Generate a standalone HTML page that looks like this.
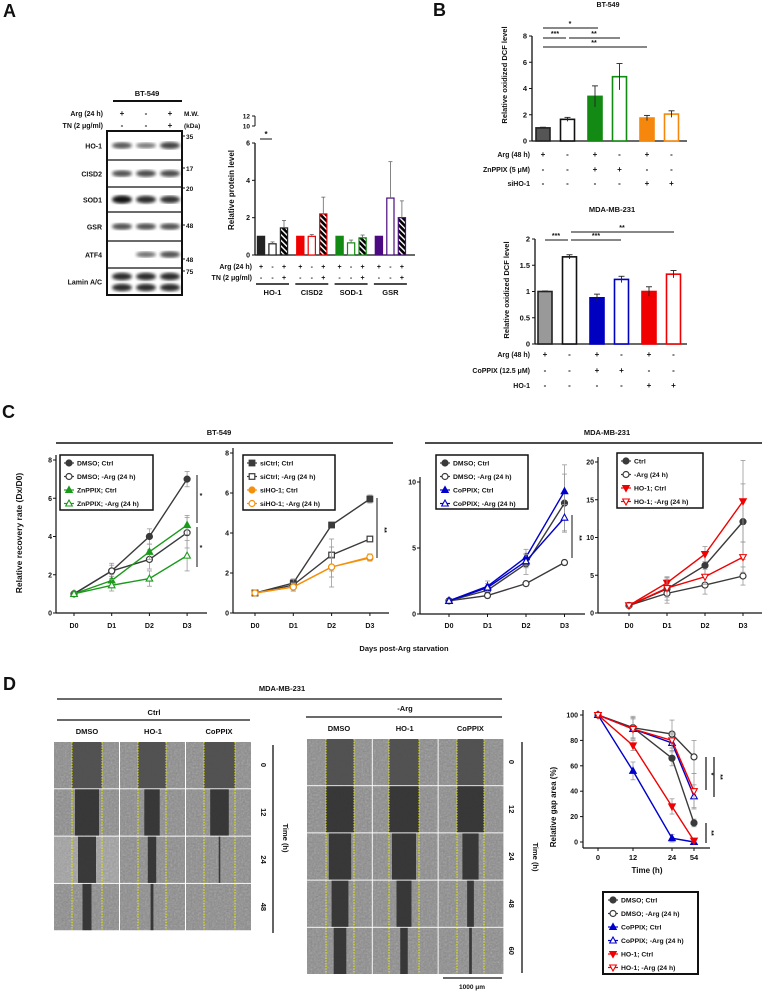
<!DOCTYPE html>
<html><head><meta charset="utf-8"><style>
html,body{margin:0;padding:0;background:#fff;}
svg{display:block;font-family:"Liberation Sans",sans-serif;font-weight:bold;}
</style></head><body>
<svg id="fig" width="762" height="991" viewBox="0 0 762 991" xmlns="http://www.w3.org/2000/svg">
<defs>
<filter id="noise" x="0" y="0" width="100%" height="100%"><feTurbulence type="fractalNoise" baseFrequency="0.55" numOctaves="2" seed="3"/><feColorMatrix type="saturate" values="0"/></filter>
<filter id="blur1"><feGaussianBlur stdDeviation="1.6"/></filter>
<pattern id="hatch" width="4" height="4" patternUnits="userSpaceOnUse" patternTransform="rotate(-45)"><rect width="4" height="4" fill="currentColor"/><rect width="1.4" height="4" fill="#fff"/></pattern>
</defs>
</svg>
<script>
// ---------- DATA ----------
const aGroups = ['HO-1','CISD2','SOD-1','GSR'];
const aValues = [[1,0.6,1.45],[1,1,2.2],[1,0.65,0.92],[1,3.05,2.0]];
const aErrors = [[0,0.1,0.4],[0,0.1,0.9],[0,0.15,0.15],[0,1.95,0.9]];
const aArg = ['+','-','+'];
const aTN = ['-','-','+'];
const aTicks = [0,2,4,6];
const blotRows = ['HO-1','CISD2','SOD1','GSR','ATF4','Lamin A/C'];
const blotIntensity = [[0.5,0.3,0.65],[0.55,0.6,0.6],[0.95,0.8,0.75],[0.55,0.55,0.55],[0,0.35,0.55],[0.8,0.8,0.8]];
const mwLabels = ['35','17','20','48','48','75'];

const bTopValues = [1,1.65,3.4,4.9,1.75,2.05];
const bTopErrors = [0.05,0.15,0.8,1.0,0.2,0.25];
const bTopArg = ['+','-','+','-','+','-'];
const bTopZn = ['-','-','+','+','-','-'];
const bTopSi = ['-','-','-','-','+','+'];
const bTopTicks = [0,2,4,6,8];
const bBotValues = [1,1.66,0.88,1.23,1.0,1.33];
const bBotErrors = [0.01,0.04,0.07,0.06,0.09,0.07];
const bBotArg = ['+','-','+','-','+','-'];
const bBotCo = ['-','-','+','+','-','-'];
const bBotHO = ['-','-','-','-','+','+'];
const bBotTicks = [0,0.5,1,1.5,2];
const bBotTickLabels = ['0','0.5','1','1.5','2'];

const cDays = ['D0','D1','D2','D3'];
const c1Names = ['DMSO; Ctrl','DMSO; -Arg (24 h)','ZnPPIX; Ctrl','ZnPPIX; -Arg (24 h)'];
const c1Values = [[1,2.2,4.0,7.0],[1,2.2,2.8,4.2],[1,1.7,3.2,4.6],[1,1.45,1.8,3.0]];
const c1Errors = [[0.1,0.4,0.4,0.4],[0.1,0.3,0.5,0.8],[0.1,0.3,0.4,0.5],[0.1,0.3,0.4,0.8]];
const c2Names = ['siCtrl; Ctrl','siCtrl; -Arg (24 h)','siHO-1; Ctrl','siHO-1; -Arg (24 h)'];
const c2Values = [[1,1.5,4.4,5.7],[1,1.4,2.9,3.7],[1,1.3,2.3,2.75],[1,1.3,2.3,2.8]];
const c2Errors = [[0.05,0.2,0.1,0.2],[0.05,0.3,0.8,0.1],[0.05,0.2,1.0,0.15],[0.05,0.2,0.5,0.15]];
const c3Names = ['DMSO; Ctrl','DMSO; -Arg (24 h)','CoPPIX; Ctrl','CoPPIX; -Arg (24 h)'];
const c3Values = [[1,1.8,3.8,8.4],[1,1.4,2.3,3.9],[1,2.1,4.3,9.3],[1,2.0,4.0,7.3]];
const c3Errors = [[0.1,0.3,0.8,2.2],[0.1,0.2,0.2,0.2],[0.1,0.4,0.6,2.0],[0.1,0.3,0.5,1.0]];
const c4Names = ['Ctrl','-Arg (24 h)','HO-1; Ctrl','HO-1; -Arg (24 h)'];
const c4Values = [[1,3.2,6.3,12.1],[1,2.6,3.7,4.9],[1,4.0,7.8,14.8],[1,3.3,4.8,7.4]];
const c4Errors = [[0.3,1.5,1.5,5],[0.3,1.3,1.2,1.2],[0.3,0.8,1.0,5.4],[0.3,1.2,1.0,2.0]];

const dTimes = ['0','12','24','54'];
const dNames = ['DMSO; Ctrl','DMSO; -Arg (24 h)','CoPPIX; Ctrl','CoPPIX; -Arg (24 h)','HO-1; Ctrl','HO-1; -Arg (24 h)'];
const dValues = [[100,90,66,15],[100,90,85,67],[100,56,3,0],[100,89,78,36],[100,76,28,1],[100,89,80,40]];
const dErrors = [[0,8,6,3],[0,9,11,13],[0,7,3,1],[0,8,7,9],[0,4,6,1],[0,8,6,14]];
const dTicks = [0,20,40,60,80,100];
const gapLeft = [[1,0.8,0.6,0.3],[1,0.55,0.3,0.1],[1,0.6,0.05,0]];
const gapRight = [[1,1,0.8,0.6,0.45],[1,1,0.8,0.5,0.25],[1,1,0.6,0.25,0.1]];

// ---------- HELPERS ----------
const NS='http://www.w3.org/2000/svg';
const svg=document.getElementById('fig');
function mk(parent, tag, attrs, name){
  const el=document.createElementNS(NS,tag);
  for(const k in attrs) el.setAttribute(k,attrs[k]);
  
  
  parent.appendChild(el); return el;
}
function T(x,y,s,size,anchor,name,rot){
  const a={x:x,y:y,'font-size':size||7,'text-anchor':anchor||'middle',fill:'#111'};
  if(rot) a.transform='rotate('+rot+' '+x+' '+y+')';
  const t=mk(svg,'text',a,name); t.textContent=s; return t;
}
function L(x1,y1,x2,y2,w,c,name,dash){
  const a={x1:x1,y1:y1,x2:x2,y2:y2,stroke:c||'#111','stroke-width':w||1};
  if(dash) a['stroke-dasharray']=dash;
  return mk(svg,'line',a,name);
}
function lin(d0,d1,r0,r1){return v=>r0+(v-d0)*(r1-r0)/(d1-d0);}
function marker(g,x,y,type,color,filled,name){
  const f=filled?color:'#fff';
  if(type==='circle') return mk(g,'circle',{cx:x,cy:y,r:3,fill:f,stroke:color,'stroke-width':1.2},name);
  if(type==='square') return mk(g,'rect',{x:x-2.8,y:y-2.8,width:5.6,height:5.6,fill:f,stroke:color,'stroke-width':1.2},name);
  if(type==='tri') return mk(g,'polygon',{points:(x)+','+(y-3.5)+' '+(x-3.3)+','+(y+2.5)+' '+(x+3.3)+','+(y+2.5),fill:f,stroke:color,'stroke-width':1.1},name);
  return mk(g,'polygon',{points:(x)+','+(y+3.5)+' '+(x-3.3)+','+(y-2.5)+' '+(x+3.3)+','+(y-2.5),fill:f,stroke:color,'stroke-width':1.1},name);
}

// ---------- PANEL A ----------
T(3,17,'A',18,'start','panel-a-label');
T(147,96,'BT-549',7.5,'middle','blot-title');
L(113,101,182,101,2,'#111','blot-title-line');
T(103,116,'Arg (24 h)',7,'end','blot-arg-label');
T(103,128,'TN (2 μg/ml)',7,'end','blot-tn-label');
const laneX=[122,146,170];
for(let i=0;i<3;i++){T(laneX[i],116,aArg[i],8,'middle','blot-arg-sign');T(laneX[i],128,aTN[i],8,'middle','blot-tn-sign');}
T(184,116,'M.W.',6.5,'start','mw-label');T(184,128,'(kDa)',6.5,'start','kda-label');
mk(svg,'rect',{x:107,y:131,width:75,height:164,fill:'#fff',stroke:'#111','stroke-width':2},'blot-frame');
const sepY=[131,160,187,212,241,268,295];
for(let r=0;r<6;r++){
  if(r>0) L(107,sepY[r],182,sepY[r],1.3,'#111','blot-row-separator');
  const cy=(sepY[r]+sepY[r+1])/2;
  T(102,cy+3,blotRows[r],7,'end','blot-row-label');
  for(let l=0;l<3;l++){
    const v=blotIntensity[r][l]; if(v<=0) continue;
    const bands = r===5?[cy-5,cy+6]:[cy];
    bands.forEach(by=>mk(svg,'ellipse',{cx:laneX[l],cy:by,rx:10,ry:2.2+v*2,fill:'#000',opacity:0.35+v*0.6,filter:'url(#blur1)'},'blot-band'));
  }
}
const mwY=[136,168,188,225,259,271];
mwLabels.forEach((m,i)=>{L(182,mwY[i],185,mwY[i],1,'#111','mw-tick');T(186,mwY[i]+3,m,6.5,'start','mw-value');});

// A bar chart
const ayA=lin(0,6,255,143);
L(255,143,255,255,1.3,'#111','a-y-axis');L(255,255,415,255,1.3,'#111','a-x-axis');
aTicks.forEach(t=>{L(252,ayA(t),255,ayA(t),1,'#111','a-y-tick');T(250,ayA(t)+2.5,String(t),7,'end','a-y-tick-label');});
L(252,126,255,126,1,'#111','a-break-tick');L(252,116,255,116,1,'#111','a-break-tick');L(255,116,255,126,1,'#111','a-break-axis');
T(250,128.5,'10',6.5,'end','a-y-tick-label');T(250,118.5,'12',6.5,'end','a-y-tick-label');
T(234,190,'Relative protein level',8,'middle','a-y-axis-title',-90);
T(266,137,'*',8,'middle','a-sig-star');L(260,139,272,139,1,'#111','a-sig-line');
const aColors=['#222','#f00000','#138a13','#4b0a82'];
aGroups.forEach((g,gi)=>{
  for(let j=0;j<3;j++){
    const cx=261+gi*39.3+j*11.5, v=aValues[gi][j], y=ayA(v), c=aColors[gi];
    const fill = j===0?c:(j===1?'#fff':'url(#hatch)');
    const b=mk(svg,'rect',{x:cx-3.6,y:y,width:7.2,height:255-y,fill:fill,stroke:c,'stroke-width':1.2,color:c},'a-bar-'+g.toLowerCase());
    const e=aErrors[gi][j]; if(e>0){L(cx,y,cx,ayA(v+e),0.8,'#666','a-error-bar');L(cx-2,ayA(v+e),cx+2,ayA(v+e),0.8,'#666','a-error-cap');}
    T(cx,269,aArg[j],7,'middle','a-arg-sign');T(cx,280,aTN[j],7,'middle','a-tn-sign');
  }
  L(256+gi*39.3,284,289+gi*39.3,284,1.5,'#111','a-group-line');
  T(272.5+gi*39.3,295,g,7.5,'middle','a-group-label');
});
T(252,269,'Arg (24 h)',7,'end','a-arg-label');T(252,280,'TN (2 μg/ml)',7,'end','a-tn-label');

// ---------- PANEL B ----------
T(433,16,'B',18,'start','panel-b-label');
function bChart(vals,errs,yfun,ax,x0,fills,strokes,ticks,tlabels,rows,rowNames,rowY,prefix){
  const xs=vals.map((v,i)=>x0+Math.floor(i/2)*52+(i%2)*24.5);
  const y0=yfun(0);
  L(ax,yfun(ticks[ticks.length-1]),ax,y0,1.3,'#111',prefix+'-y-axis');L(ax,y0,687,y0,1.3,'#111',prefix+'-x-axis');
  ticks.forEach((t,i)=>{L(ax-3,yfun(t),ax,yfun(t),1,'#111',prefix+'-y-tick');T(ax-5,yfun(t)+2.5,tlabels[i],7.5,'end',prefix+'-y-tick-label');});
  vals.forEach((v,i)=>{
    const y=yfun(v);
    mk(svg,'rect',{x:xs[i]-7,y:y,width:14,height:y0-y,fill:fills[i],stroke:strokes[i],'stroke-width':1.6},prefix+'-bar');
    const ye=yfun(v+errs[i]),yl=yfun(v-errs[i]);
    L(xs[i],yl,xs[i],ye,0.9,'#222',prefix+'-error-bar');L(xs[i]-3,ye,xs[i]+3,ye,0.9,'#222',prefix+'-error-cap');
    rows.forEach((r,ri)=>T(xs[i],rowY[ri],r[i],8,'middle',prefix+'-sign'));
  });
  rowNames.forEach((n,ri)=>T(530,rowY[ri],n,7,'end',prefix+'-row-label'));
  return xs;
}
T(608,7,'BT-549',7,'middle','b-top-title');
const byTop=lin(0,8,141,36);
bChart(bTopValues,bTopErrors,byTop,532,543,['#555','#fff','#138a13','#fff','#f5880c','#fff'],['#222','#111','#138a13','#138a13','#f5880c','#f5880c'],bTopTicks,bTopTicks.map(String),[bTopArg,bTopZn,bTopSi],['Arg (48 h)','ZnPPIX (5 μM)','siHO-1'],[157,172,186],'b-top');
T(507,75,'Relative oxidized DCF level',7.5,'middle','b-top-y-axis-title',-90);
L(543,28,598,28,1,'#111','b-sig-line');T(570,26,'*',7,'middle','b-sig-star');
L(543,38,566,38,1,'#111','b-sig-line');T(555,36,'***',7,'middle','b-sig-star');
L(569,38,620,38,1,'#111','b-sig-line');T(594,36,'**',7,'middle','b-sig-star');
L(543,47,647,47,1,'#111','b-sig-line');T(594,45,'**',7,'middle','b-sig-star');
T(612,212,'MDA-MB-231',7.5,'middle','b-bottom-title');
const byBot=lin(0,2,344,239);
bChart(bBotValues,bBotErrors,byBot,535,545,['#999','#fff','#0000c0','#fff','#f00000','#fff'],['#222','#111','#0000c0','#0000c0','#f00000','#f00000'],bBotTicks,bBotTickLabels,[bBotArg,bBotCo,bBotHO],['Arg (48 h)','CoPPIX (12.5 μM)','HO-1'],[357,373,388],'b-bottom');
T(509,290,'Relative oxidized DCF level',7.5,'middle','b-bottom-y-axis-title',-90);
L(545,240,568,240,1,'#111','b-sig-line');T(556,238,'***',7,'middle','b-sig-star');
L(571,240,621,240,1,'#111','b-sig-line');T(596,238,'***',7,'middle','b-sig-star');
L(571,232,674,232,1,'#111','b-sig-line');T(622,230,'**',7,'middle','b-sig-star');

// ---------- PANEL C ----------
T(2,418,'C',18,'start','panel-c-label');
T(219,435,'BT-549',7.5,'middle','c-bt549-title');L(56,443,393,443,1.5,'#111','c-bt549-line');
T(607,435,'MDA-MB-231',7.5,'middle','c-mda-title');L(425,443,762,443,1.5,'#111','c-mda-line');
T(22,533,'Relative recovery rate (Dx/D0)',8.5,'middle','c-y-axis-title',-90);
T(404,651,'Days post-Arg starvation',7.5,'middle','c-x-axis-title');
function cPlot(cfg,names,vals,errs,styles,prefix){
  const yf=lin(0,cfg.max,cfg.y0,cfg.yTop);
  const xf=i=>cfg.x0+i*cfg.dx;
  L(cfg.ax,cfg.yTop-5,cfg.ax,cfg.y0,1.2,'#111',prefix+'-y-axis');L(cfg.ax,cfg.y0,cfg.xr,cfg.y0,1.2,'#111',prefix+'-x-axis');
  cfg.ticks.forEach(t=>{L(cfg.ax-3,yf(t),cfg.ax,yf(t),1,'#111',prefix+'-y-tick');T(cfg.ax-4,yf(t)+2.5,String(t),7,'end',prefix+'-y-tick-label');});
  cDays.forEach((d,i)=>{L(xf(i),cfg.y0,xf(i),cfg.y0+3,1,'#111',prefix+'-x-tick');T(xf(i),628,d,7,'middle',prefix+'-x-tick-label');});
  vals.forEach((s,si)=>{
    const st=styles[si];
    s.forEach((v,i)=>{const e=errs[si][i];L(xf(i),yf(v-e),xf(i),yf(v+e),0.8,'#999',prefix+'-error-bar');L(xf(i)-2.5,yf(v+e),xf(i)+2.5,yf(v+e),0.8,'#999',prefix+'-error-cap');L(xf(i)-2.5,yf(v-e),xf(i)+2.5,yf(v-e),0.8,'#999',prefix+'-error-cap');});
    mk(svg,'polyline',{points:s.map((v,i)=>xf(i)+','+yf(v)).join(' '),fill:'none',stroke:st.c,'stroke-width':1.4},prefix+'-line');
    s.forEach((v,i)=>marker(svg,xf(i),yf(v),st.m,st.c,st.f,prefix+'-point'));
  });
  const lg=cfg.lg;
  mk(svg,'rect',{x:lg[0],y:lg[1],width:lg[2],height:lg[3],fill:'#fff',stroke:'#111','stroke-width':1.5},prefix+'-legend-box');
  names.forEach((n,i)=>{const yy=lg[1]+8+i*13.5,st=styles[i];
    L(lg[0]+4,yy,lg[0]+14,yy,1.2,st.c,prefix+'-legend-line');marker(svg,lg[0]+9,yy,st.m,st.c,st.f,prefix+'-legend-marker');
    T(lg[0]+17,yy+2.5,n,6.8,'start',prefix+'-legend-label');});
}
const G='#3a3a3a';
cPlot({ax:56,x0:74,dx:37.7,y0:613,yTop:460,max:8,xr:207,ticks:[0,2,4,6,8],lg:[60,455,93,55]},c1Names,c1Values,c1Errors,
 [{c:G,m:'circle',f:true},{c:G,m:'circle',f:false},{c:'#1a9a1a',m:'tri',f:true},{c:'#1a9a1a',m:'tri',f:false}],'c-bt549-zn');
cPlot({ax:233,x0:255,dx:38.3,y0:613,yTop:453,max:8,xr:389,ticks:[0,2,4,6,8],lg:[243,455,92,55]},c2Names,c2Values,c2Errors,
 [{c:G,m:'square',f:true},{c:G,m:'square',f:false},{c:'#f5900c',m:'circle',f:true},{c:'#f5900c',m:'circle',f:false}],'c-bt549-si');
cPlot({ax:420,x0:449,dx:38.5,y0:614,yTop:482,max:10,xr:585,ticks:[0,5,10],lg:[436,455,92,54]},c3Names,c3Values,c3Errors,
 [{c:G,m:'circle',f:true},{c:G,m:'circle',f:false},{c:'#0000cc',m:'tri',f:true},{c:'#0000cc',m:'tri',f:false}],'c-mda-co');
cPlot({ax:598,x0:629,dx:38,y0:613,yTop:462,max:20,xr:762,ticks:[0,5,10,15,20],lg:[617,453,86,55]},c4Names,c4Values,c4Errors,
 [{c:G,m:'circle',f:true},{c:G,m:'circle',f:false},{c:'#f00000',m:'inv',f:true},{c:'#f00000',m:'inv',f:false}],'c-mda-ho');
L(197,475,197,523,1,'#111','c-sig-line');T(201,498,'*',7,'middle','c-sig-star');
L(197,527,197,567,1,'#111','c-sig-line');T(201,550,'*',7,'middle','c-sig-star');
L(377,498,377,558,1,'#111','c-sig-line');T(382,530,'**',7,'middle','c-sig-star',90);
L(572,515,572,558,1,'#111','c-sig-line');T(577,538,'**',7,'middle','c-sig-star',90);

// ---------- PANEL D ----------
T(3,690,'D',18,'start','panel-d-label');
T(282,691,'MDA-MB-231',7.5,'middle','d-title');L(57,699,502,699,1.3,'#111','d-title-line');
T(154,715,'Ctrl',7.5,'middle','d-ctrl-title');L(57,720,250,720,1.3,'#111','d-ctrl-line');
T(405,711,'-Arg',7.5,'middle','d-arg-title');L(306,717,502,717,1.3,'#111','d-arg-line');
['DMSO','HO-1','CoPPIX'].forEach((c,i)=>{T(87+i*66,734,c,7.5,'middle','d-left-column-label');T(339+i*65.7,731,c,7.5,'middle','d-right-column-label');});
function grid(x0,y0,cw,rh,gaps,dash,prefix){
  gaps.forEach((col,ci)=>col.forEach((g,ri)=>{
    const x=x0+ci*cw,y=y0+ri*rh;
    mk(svg,'rect',{x:x,y:y,width:cw-1,height:rh-1,fill:ri===2&&ci===0&&prefix==='d-left'?'#a0a0a0':'#8a8a8a'},prefix+'-image');
    mk(svg,'rect',{x:x,y:y,width:cw-1,height:rh-1,fill:'#000',filter:'url(#noise)',opacity:0.45},prefix+'-image-texture');
    const d1=dash[ci][0],d2=dash[ci][1],w=(d2-d1)*g,c=(d1+d2)/2;
    if(w>0) mk(svg,'rect',{x:c-w/2,y:y,width:w,height:rh-1,fill:ri===0?'#4a4a4a':'#2e2e2e',opacity:0.9},prefix+'-wound-gap');
    L(d1,y,d1,y+rh-1,1,'#f0f000',prefix+'-yellow-line','1.5,1.2');L(d2,y,d2,y+rh-1,1,'#f0f000',prefix+'-yellow-line','1.5,1.2');
  }));
}
grid(54,742,66,47.3,gapLeft,[[72,102],[138,166],[204,235]],'d-left');
grid(307,739,65.8,47.2,gapRight,[[326,354],[389,419],[457,484]],'d-right');
['0','12','24','48'].forEach((t,i)=>T(261,765+i*47.3,t,7.5,'middle','d-left-time-label',90));
['0','12','24','48','60'].forEach((t,i)=>T(509,762+i*47.2,t,7.5,'middle','d-right-time-label',90));
L(273,745,273,933,1.3,'#111','d-left-time-line');T(283,838,'Time (h)',7.5,'middle','d-left-time-title',90);
L(522,742,522,973,1.3,'#111','d-right-time-line');T(533,857,'Time (h)',7.5,'middle','d-right-time-title',90);
L(443,978,502,978,1.3,'#111','d-scale-bar');T(472,989,'1000 μm',6.5,'middle','d-scale-label');
// gap area chart
const dy=lin(0,100,842,715);
const dxPos=[598,633,672,694];
L(583,710,583,848,1.2,'#111','d-y-axis');L(583,848,710,848,1.2,'#111','d-x-axis');
dTicks.forEach(t=>{L(580,dy(t),583,dy(t),1,'#111','d-y-tick');T(578,dy(t)+2.5,String(t),7,'end','d-y-tick-label');});
dTimes.forEach((t,i)=>{L(dxPos[i],848,dxPos[i],851,1,'#111','d-x-tick');T(dxPos[i],860,t,7.5,'middle','d-x-tick-label');});
T(647,873,'Time (h)',8,'middle','d-x-axis-title');
T(556,807,'Relative gap area (%)',8,'middle','d-y-axis-title',-90);
const dStyles=[{c:G,m:'circle',f:true},{c:G,m:'circle',f:false},{c:'#0000cc',m:'tri',f:true},{c:'#0000cc',m:'tri',f:false},{c:'#f00000',m:'inv',f:true},{c:'#f00000',m:'inv',f:false}];
dValues.forEach((s,si)=>{
  const st=dStyles[si];
  s.forEach((v,i)=>{const e=dErrors[si][i];if(e>0){L(dxPos[i],dy(v-e),dxPos[i],dy(v+e),0.8,'#999','d-error-bar');L(dxPos[i]-2.5,dy(v+e),dxPos[i]+2.5,dy(v+e),0.8,'#999','d-error-cap');L(dxPos[i]-2.5,dy(v-e),dxPos[i]+2.5,dy(v-e),0.8,'#999','d-error-cap');}});
  mk(svg,'polyline',{points:s.map((v,i)=>dxPos[i]+','+dy(v)).join(' '),fill:'none',stroke:st.c,'stroke-width':1.4},'d-line');
  s.forEach((v,i)=>marker(svg,dxPos[i],dy(v),st.m,st.c,st.f,'d-point'));
});
L(706,757,706,790,1.2,'#111','d-sig-line');T(709,774,'*',7,'middle','d-sig-star',90);
L(714,757,714,797,1.2,'#111','d-sig-line');T(718,777,'**',7,'middle','d-sig-star',90);
L(706,823,706,843,1.2,'#111','d-sig-line');T(709,833,'**',7,'middle','d-sig-star',90);
mk(svg,'rect',{x:603,y:892,width:95,height:82,fill:'#fff',stroke:'#111','stroke-width':2},'d-legend-box');
dNames.forEach((n,i)=>{const yy=900+i*13.5,st=dStyles[i];
  L(608,yy,618,yy,1.2,st.c,'d-legend-line');marker(svg,613,yy,st.m,st.c,st.f,'d-legend-marker');
  T(621,yy+2.5,n,6.8,'start','d-legend-label');});
</script>
</body></html>
